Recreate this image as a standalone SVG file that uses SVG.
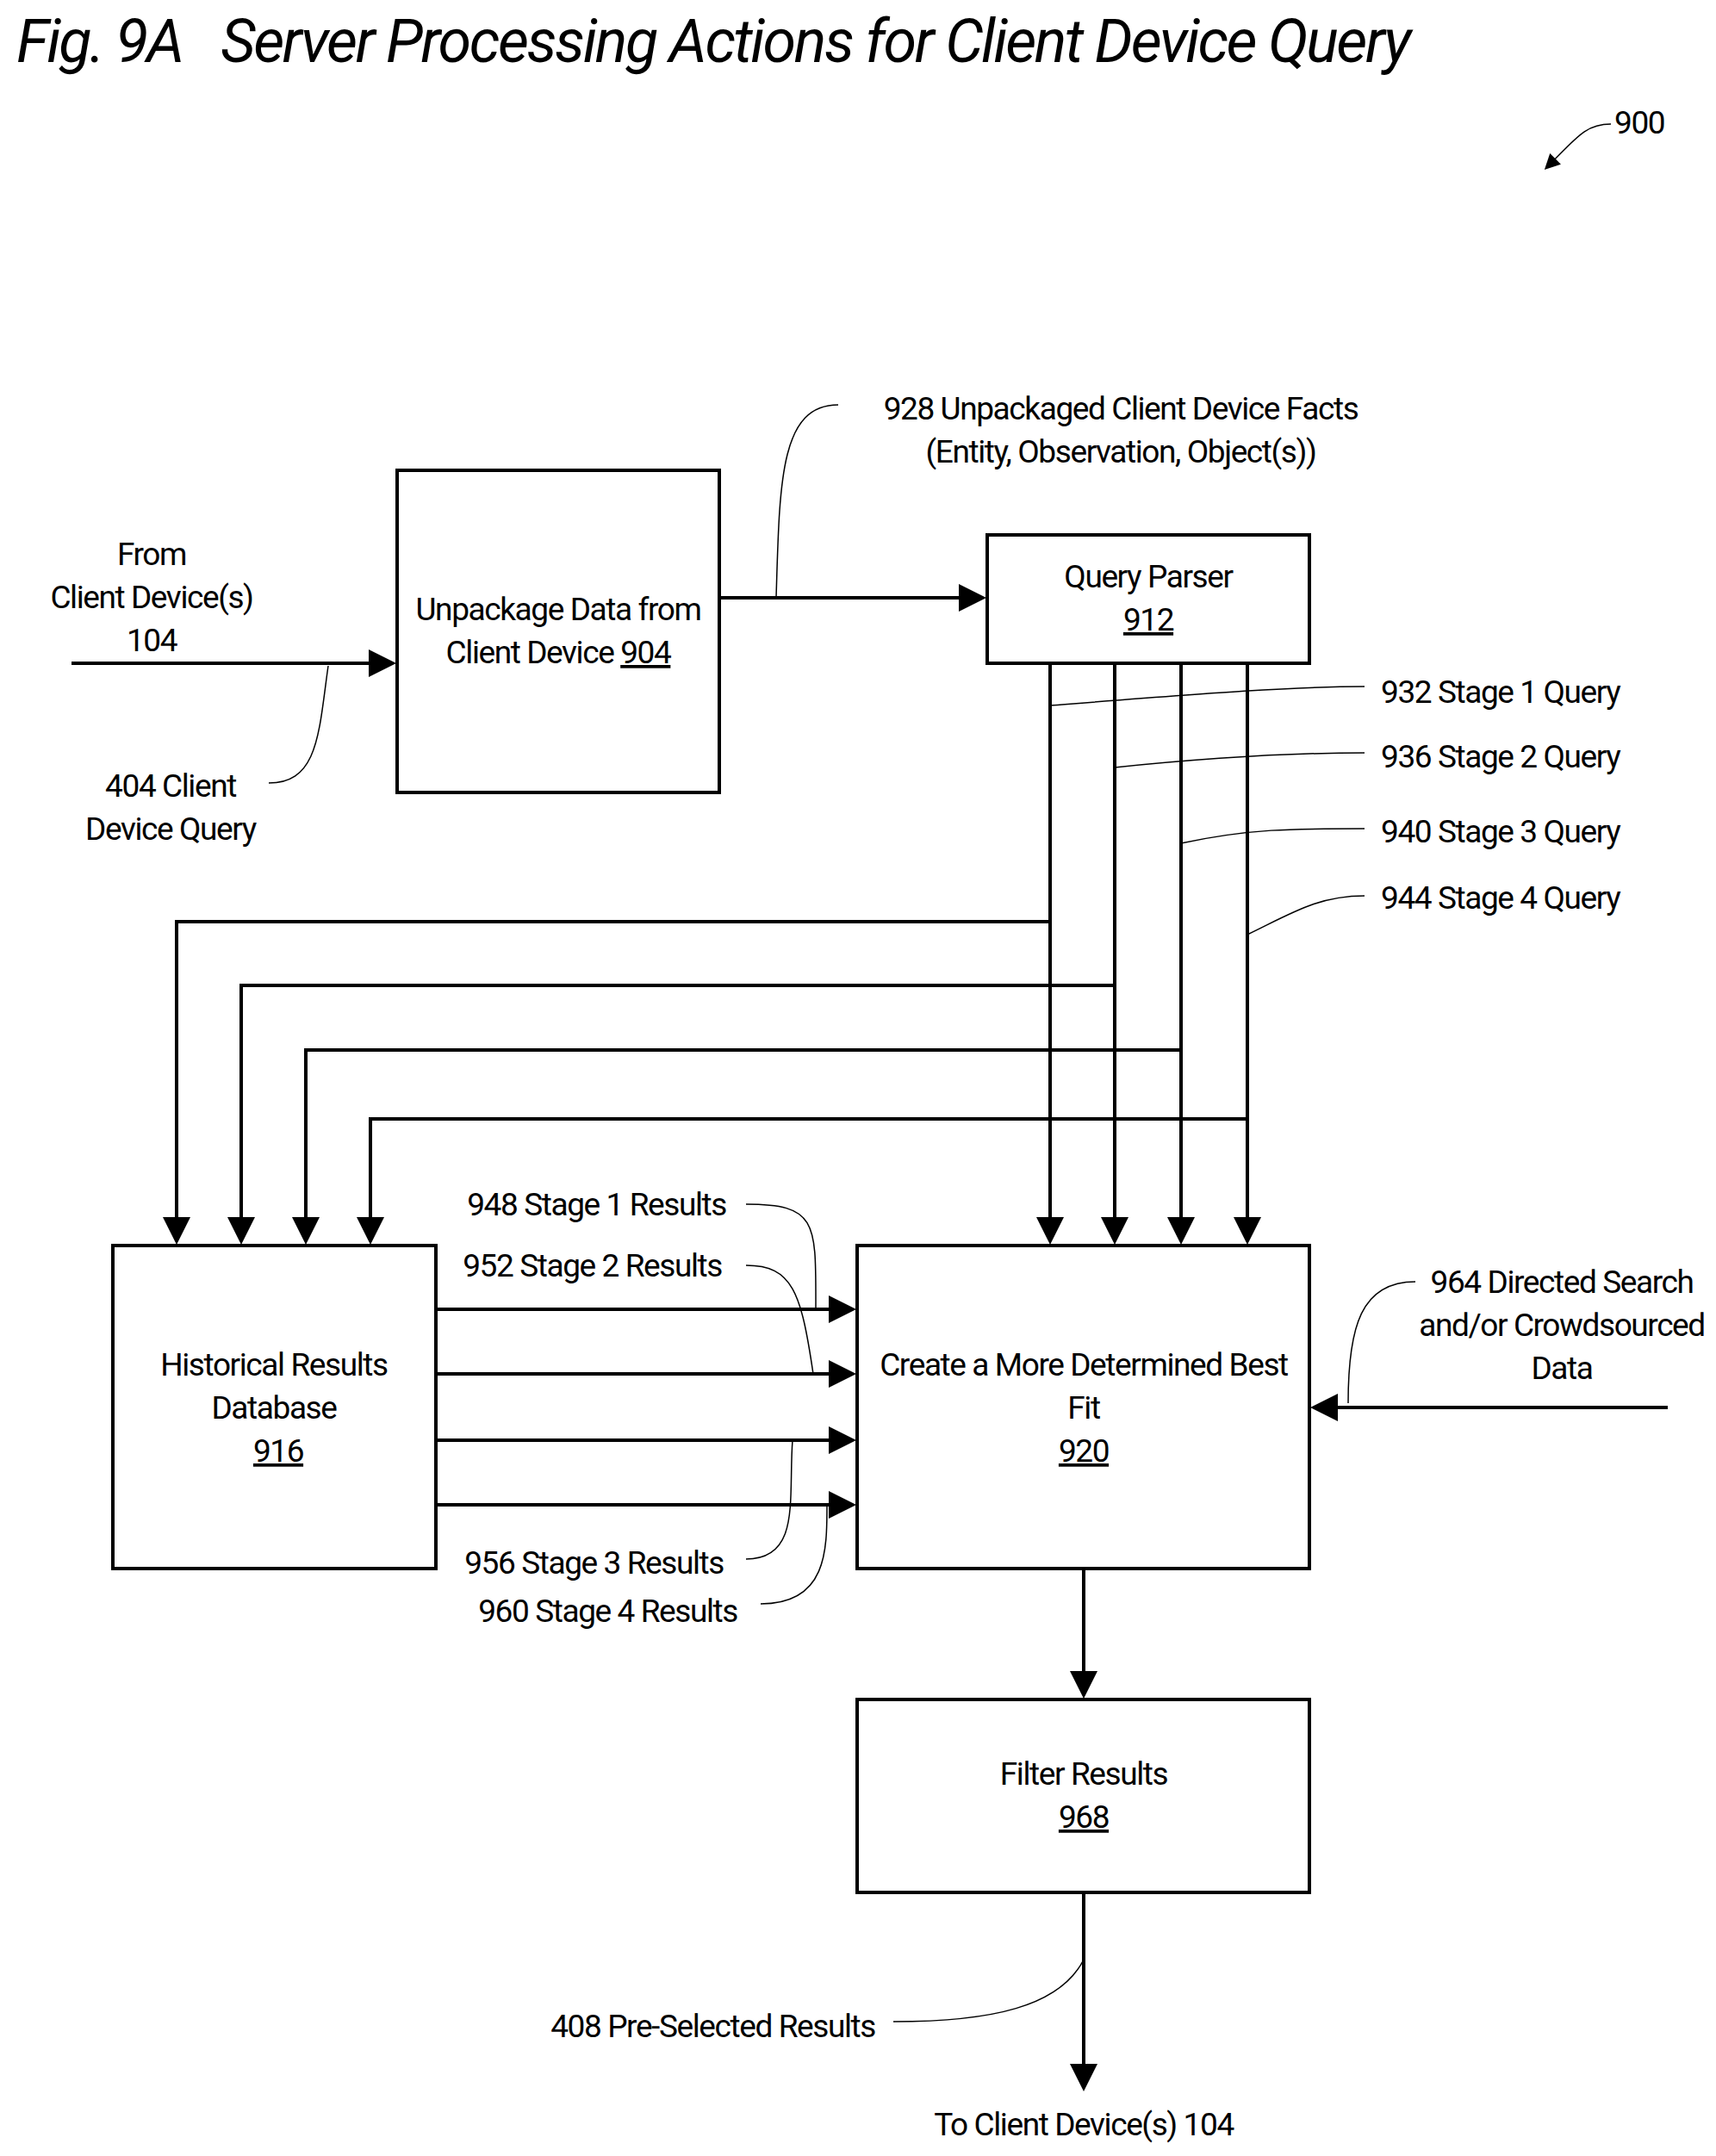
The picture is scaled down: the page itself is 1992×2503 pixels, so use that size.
<svg xmlns="http://www.w3.org/2000/svg" width="1992" height="2503" viewBox="0 0 1992 2503">
<style>
text{font-family:Roboto,"Liberation Sans",sans-serif;font-size:37px;letter-spacing:-1.4px;fill:#000}
.c{text-anchor:middle}.e{text-anchor:end}
.box{fill:#fff;stroke:#000;stroke-width:4}
.ln{fill:none;stroke:#000;stroke-width:4}
.ld{fill:none;stroke:#000;stroke-width:1.5}
</style>
<defs><marker id="a" markerWidth="8" markerHeight="8" refX="7" refY="4" orient="auto" markerUnits="strokeWidth"><path d="M0,0L8,4L0,8Z"/></marker>
<marker id="b" markerWidth="12" markerHeight="12" refX="10" refY="6" orient="auto" markerUnits="strokeWidth"><path d="M0,0L12,6L0,12Z"/></marker></defs>
<rect width="1992" height="2503" fill="#fff"/>
<text x="19" y="72" xml:space="preserve" style="font-size:70px;font-style:italic;letter-spacing:-2.4px">Fig. 9A   Server Processing Actions for Client Device Query</text>
<text x="1874" y="155">900</text>
<path class="ld" d="M1870,144 C1840,144 1830,160 1795,195" stroke-width="3" marker-end="url(#b)"/>
<g id="connectors">
<path class="ln" d="M83,770H456" marker-end="url(#a)"/>
<path class="ln" d="M835,694H1141" marker-end="url(#a)"/>
<path class="ln" d="M1219,770V1441" marker-end="url(#a)"/>
<path class="ln" d="M1294,770V1441" marker-end="url(#a)"/>
<path class="ln" d="M1371,770V1441" marker-end="url(#a)"/>
<path class="ln" d="M1448,770V1441" marker-end="url(#a)"/>
<path class="ln" d="M1219,1070H205V1441" marker-end="url(#a)"/>
<path class="ln" d="M1294,1144H280V1441" marker-end="url(#a)"/>
<path class="ln" d="M1371,1219H355V1441" marker-end="url(#a)"/>
<path class="ln" d="M1448,1299H430V1441" marker-end="url(#a)"/>
<path class="ln" d="M506,1520H990" marker-end="url(#a)"/>
<path class="ln" d="M506,1595H990" marker-end="url(#a)"/>
<path class="ln" d="M506,1672H990" marker-end="url(#a)"/>
<path class="ln" d="M506,1747H990" marker-end="url(#a)"/>
<path class="ln" d="M1936,1634H1525" marker-end="url(#a)"/>
<path class="ln" d="M1258,1821V1968" marker-end="url(#a)"/>
<path class="ln" d="M1258,2197V2424" marker-end="url(#a)"/>
<path class="ld" d="M312,909C370,909 370,850 381,773"/>
<path class="ld" d="M901,694C905,560 905,470 973,470"/>
<path class="ld" d="M1219,819C1400,805 1500,797 1584,797"/>
<path class="ld" d="M1294,891C1400,880 1500,874 1584,874"/>
<path class="ld" d="M1371,979C1450,962 1500,962 1584,962"/>
<path class="ld" d="M1448,1085C1500,1060 1530,1040 1584,1040"/>
<path class="ld" d="M866,1398C950,1398 947,1420 947,1520"/>
<path class="ld" d="M866,1469C920,1469 930,1500 944,1595"/>
<path class="ld" d="M866,1810C930,1810 915,1740 920,1672"/>
<path class="ld" d="M883,1862C960,1862 960,1800 960,1747"/>
<path class="ld" d="M1643,1488C1580,1488 1565,1540 1565,1629"/>
<path class="ld" d="M1037,2347C1150,2347 1230,2330 1258,2275"/>
</g>
<g id="n904"><rect class="box" x="461" y="546" width="374" height="374"/>
<text class="c" x="648" y="720">Unpackage Data from</text><text class="c" x="648" y="770">Client Device <tspan text-decoration="underline">904</tspan></text></g>
<g id="n912"><rect class="box" x="1146" y="621" width="374" height="149"/>
<text class="c" x="1333" y="682">Query Parser</text><text class="c" x="1333" y="732" text-decoration="underline">912</text></g>
<g id="n916"><rect class="box" x="131" y="1446" width="375" height="375"/>
<text class="c" x="318" y="1597">Historical Results</text><text class="c" x="318" y="1647">Database</text><text class="c" x="323" y="1697" text-decoration="underline">916</text></g>
<g id="n920"><rect class="box" x="995" y="1446" width="525" height="375"/>
<text class="c" x="1258" y="1597">Create a More Determined Best</text><text class="c" x="1258" y="1647">Fit</text><text class="c" x="1258" y="1697" text-decoration="underline">920</text></g>
<g id="n968"><rect class="box" x="995" y="1973" width="525" height="224"/>
<text class="c" x="1258" y="2072">Filter Results</text><text class="c" x="1258" y="2122" text-decoration="underline">968</text></g>
<g id="labels">
<text class="c" x="176" y="656">From</text><text class="c" x="176" y="706">Client Device(s)</text><text class="c" x="176" y="756">104</text>
<text class="c" x="198" y="925">404 Client</text><text class="c" x="198" y="975">Device Query</text>
<text class="c" x="1301" y="487">928 Unpackaged Client Device Facts</text><text class="c" x="1301" y="537">(Entity, Observation, Object(s))</text>
<text x="1603" y="816">932 Stage 1 Query</text>
<text x="1603" y="891">936 Stage 2 Query</text>
<text x="1603" y="978">940 Stage 3 Query</text>
<text x="1603" y="1055">944 Stage 4 Query</text>
<text class="e" x="843" y="1411">948 Stage 1 Results</text>
<text class="e" x="838" y="1482">952 Stage 2 Results</text>
<text class="e" x="840" y="1827">956 Stage 3 Results</text>
<text class="e" x="856" y="1883">960 Stage 4 Results</text>
<text class="c" x="1813" y="1501">964 Directed Search</text><text class="c" x="1813" y="1551">and/or Crowdsourced</text><text class="c" x="1813" y="1601">Data</text>
<text class="e" x="1016" y="2365">408 Pre-Selected Results</text>
<text class="c" x="1258" y="2479">To Client Device(s) 104</text>
</g>
</svg>
